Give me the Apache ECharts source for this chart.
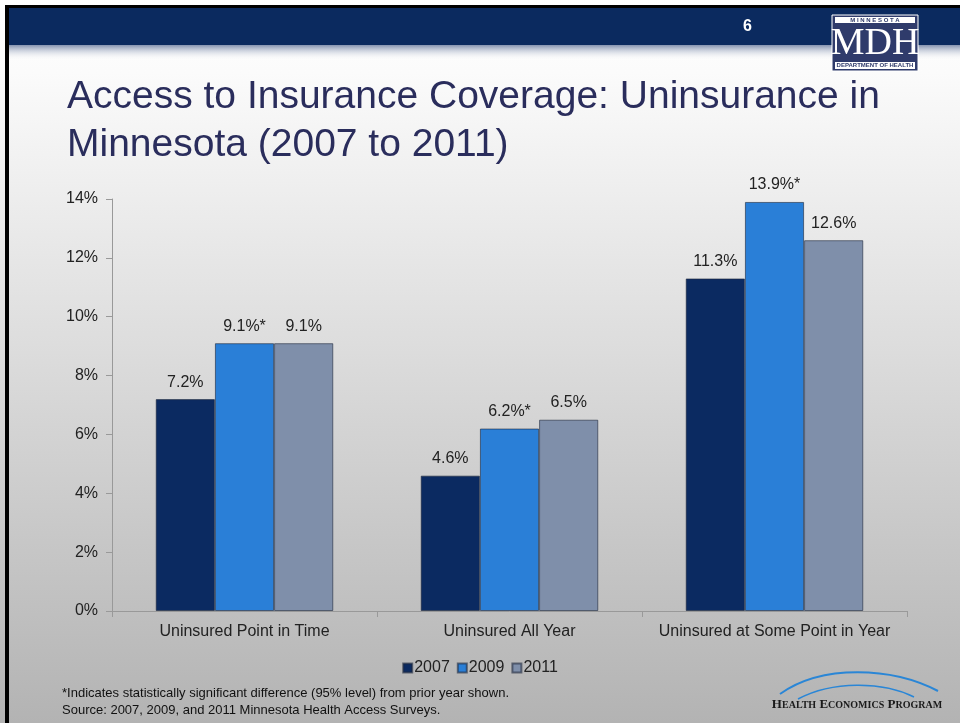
<!DOCTYPE html>
<html>
<head>
<meta charset="utf-8">
<script src="https://cdn.jsdelivr.net/npm/echarts@6/dist/echarts.min.js"></script>
<style>html,body{margin:0;padding:0;background:#fff}#c{width:960px;height:723px}</style>
</head>
<body>
<div id="c"></div>
<script>
var categories = ['Uninsured Point in Time', 'Uninsured All Year', 'Uninsured at Some Point in Year'];
var years = ['2007', '2009', '2011'];
var values2007 = [7.2, 4.6, 11.3];
var values2009 = [9.1, 6.2, 13.9];
var values2011 = [9.1, 6.5, 12.6];
var labels2007 = ['7.2%', '4.6%', '11.3%'];
var labels2009 = ['9.1%*', '6.2%*', '13.9%*'];
var labels2011 = ['9.1%', '6.5%', '12.6%'];
var yTicks = [0, 2, 4, 6, 8, 10, 12, 14];

var colors = ['#0b2a61', '#2a7fd7', '#7f8faa'];
var font = 'Liberation Sans, Arial, sans-serif';

function mkSeries(name, vals, labs, color) {
  return {
    name: name, type: 'bar', data: vals, barGap: '0%', barCategoryGap: '33%',
    itemStyle: { color: color, borderColor: 'rgba(30,40,60,0.6)', borderWidth: 1 },
    label: {
      show: true, position: 'top', distance: 9, color: '#222', fontSize: 16, fontFamily: font,
      formatter: function (p) { return labs[p.dataIndex]; }
    }
  };
}

var chart = echarts.init(document.getElementById('c'));
chart.setOption({
  animation: false,
  color: colors,
  textStyle: { fontFamily: font },
  title: {
    text: 'Access to Insurance Coverage: Uninsurance in\nMinnesota (2007 to 2011)',
    left: 62, top: 68,
    textStyle: { color: '#2a2d5c', fontSize: 39, fontWeight: 'normal', fontFamily: font, lineHeight: 48 }
  },
  legend: {
    data: years, top: 655, left: 'center', itemWidth: 9, itemHeight: 9, itemGap: 7,
    icon: 'rect',
    textStyle: { fontSize: 16, color: '#222', fontFamily: font, padding: [0, 0, 0, -3] }
  },
  grid: { left: 112, right: 53, top: 199, bottom: 112 },
  xAxis: {
    type: 'category', data: categories,
    axisLine: { lineStyle: { color: '#999' } },
    axisTick: { show: true, length: 6, lineStyle: { color: '#999' } },
    axisLabel: { color: '#222', fontSize: 16, margin: 13, fontFamily: font, interval: 0, hideOverlap: false }
  },
  yAxis: {
    type: 'value', min: yTicks[0], max: yTicks[yTicks.length - 1], interval: 2,
    axisLine: { show: true, lineStyle: { color: '#999' } },
    axisTick: { show: true, length: 6, lineStyle: { color: '#999' } },
    splitLine: { show: false },
    axisLabel: { color: '#222', fontSize: 16, margin: 14, fontFamily: font, formatter: '{value}%' }
  },
  series: [
    mkSeries(years[0], values2007, labels2007, colors[0]),
    mkSeries(years[1], values2009, labels2009, colors[1]),
    mkSeries(years[2], values2011, labels2011, colors[2])
  ],
  graphic: [
    { type: 'rect', z: -100, silent: true, shape: { x: 0, y: 0, width: 960, height: 723 },
      style: { fill: new echarts.graphic.LinearGradient(0, 0, 0, 1, [
        { offset: 0, color: '#ffffff' }, { offset: 0.1, color: '#fbfbfb' }, { offset: 1, color: '#b3b3b3' }]) } },
    { type: 'rect', z: -90, silent: true, shape: { x: 8, y: 8, width: 952, height: 37 }, style: { fill: '#0b2a5f' } },
    { type: 'rect', z: -90, silent: true, shape: { x: 8, y: 45, width: 952, height: 15 },
      style: { fill: new echarts.graphic.LinearGradient(0, 0, 0, 1, [
        { offset: 0, color: '#8593b0' }, { offset: 1, color: 'rgba(250,250,252,0)' }]) } },
    { type: 'rect', z: -80, silent: true, shape: { x: 5, y: 5, width: 955, height: 3 }, style: { fill: '#000' } },
    { type: 'rect', z: -80, silent: true, shape: { x: 5, y: 5, width: 4, height: 718 }, style: { fill: '#000' } },
    { type: 'text', z: 10, silent: true, left: 743, top: 19,
      style: { text: '6', fill: '#fff', font: 'bold 16px ' + font } },
    // MDH logo
    { type: 'rect', z: 10, silent: true, shape: { x: 832, y: 15, width: 86, height: 56 },
      style: { fill: '#2f3b6b', stroke: '#ffffff', lineWidth: 1 } },
    { type: 'rect', z: 11, silent: true, shape: { x: 835, y: 17, width: 80, height: 6 }, style: { fill: '#fff' } },
    { type: 'text', z: 12, silent: true, x: 875, y: 20,
      style: { text: 'M I N N E S O T A', fill: '#2f3b6b', font: 'bold 6px ' + font, align: 'center', verticalAlign: 'middle' } },
    { type: 'text', z: 12, silent: true, x: 875, y: 44,
      style: { text: 'MDH', fill: '#fff', font: '38px "Liberation Serif", "Times New Roman", serif', align: 'center', verticalAlign: 'middle' } },
    { type: 'rect', z: 11, silent: true, shape: { x: 835, y: 62, width: 80, height: 7 }, style: { fill: '#fff' } },
    { type: 'text', z: 12, silent: true, x: 875, y: 65.5,
      style: { text: 'DEPARTMENT OF HEALTH', fill: '#2f3b6b', font: 'bold 6px ' + font, align: 'center', verticalAlign: 'middle' } },
    // footnotes
    { type: 'text', z: 10, silent: true, left: 62, top: 685,
      style: { text: '*Indicates statistically significant difference (95% level) from prior year shown.\nSource: 2007, 2009, and 2011 Minnesota Health Access Surveys.',
        fill: '#111', font: '13px ' + font, lineHeight: 17 } },
    // Health Economics Program logo
    { type: 'bezierCurve', z: 10, silent: true,
      shape: { x1: 780, y1: 694, x2: 938, y2: 691, cpx1: 822, cpy1: 664, cpx2: 892, cpy2: 667 },
      style: { stroke: '#2a86d6', lineWidth: 2, fill: null } },
    { type: 'bezierCurve', z: 10, silent: true,
      shape: { x1: 798, y1: 699, x2: 914, y2: 697, cpx1: 832, cpy1: 681, cpx2: 882, cpy2: 681 },
      style: { stroke: '#2a86d6', lineWidth: 1.5, fill: null } },
    { type: 'text', z: 10, silent: true, x: 857, y: 705,
      style: {
        text: '{b|H}{s|EALTH} {b|E}{s|CONOMICS} {b|P}{s|ROGRAM}',
        align: 'center', verticalAlign: 'middle',
        rich: {
          b: { font: 'bold 13px "Liberation Serif", serif', fill: '#1a1a1a' },
          s: { font: 'bold 10px "Liberation Serif", serif', fill: '#1a1a1a' }
        }
      } }
  ]
});
</script>
</body>
</html>
